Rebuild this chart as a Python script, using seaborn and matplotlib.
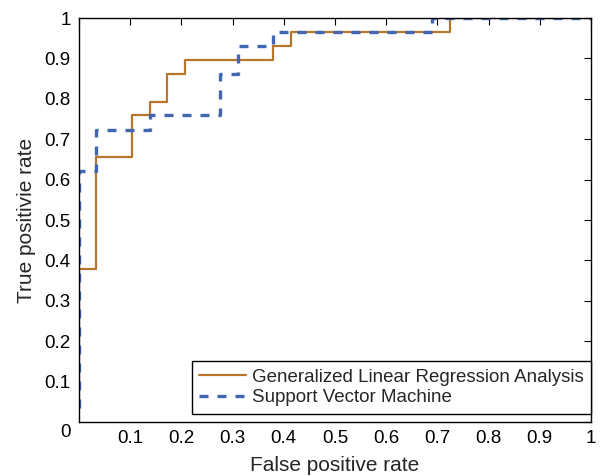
"""
ROC curves: GLM vs SVM
"""

import numpy as np
import pandas as pd
import matplotlib
matplotlib.use("Agg")
import matplotlib.pyplot as plt
import matplotlib.transforms as mtransforms
import seaborn as sns

# ROC corner points (false positive rate, true positive rate)
glm_fpr = [0.0, 0.0, 0.034, 0.034, 0.103, 0.103, 0.138, 0.138, 0.172, 0.172,
           0.207, 0.207, 0.379, 0.379, 0.414, 0.414, 0.724, 0.724, 1.0]
glm_tpr = [0.034, 0.379, 0.379, 0.655, 0.655, 0.759, 0.759, 0.793, 0.793, 0.862,
           0.862, 0.897, 0.897, 0.931, 0.931, 0.966, 0.966, 1.0, 1.0]

svm_fpr = [0.0, 0.0, 0.034, 0.034, 0.138, 0.138, 0.276, 0.276, 0.310, 0.310,
           0.379, 0.379, 0.690, 0.690, 1.0]
svm_tpr = [0.034, 0.621, 0.621, 0.724, 0.724, 0.759, 0.759, 0.862, 0.862, 0.931,
           0.931, 0.966, 0.966, 1.0, 1.0]

labels = ["Generalized Linear Regression Analysis", "Support Vector Machine"]
ticks = [0, 0.1, 0.2, 0.3, 0.4, 0.5, 0.6, 0.7, 0.8, 0.9, 1]

sns.set_style("white")
plt.rcParams['font.family'] = ['Liberation Sans', 'DejaVu Sans']

fig = plt.figure(figsize=(6.03, 4.76), dpi=100)
ax = fig.add_axes([0.131, 0.1134, 0.849, 0.8487])

glm = pd.DataFrame({'fpr': glm_fpr, 'tpr': glm_tpr})
svm = pd.DataFrame({'fpr': svm_fpr, 'tpr': svm_tpr})

sns.lineplot(data=glm, x='fpr', y='tpr', sort=False, estimator=None,
             color='#b6772c', linewidth=1.6, label=labels[0], ax=ax)
sns.lineplot(data=svm, x='fpr', y='tpr', sort=False, estimator=None,
             color='#4167b2', linewidth=2.4, label=labels[1], ax=ax)
ax.lines[1].set_dashes([2.7, 2.7])

ax.set_xlim(0, 1)
ax.set_ylim(0, 1)
ax.set_xticks(ticks)
ax.set_yticks(ticks)
ax.set_xticklabels(['' if t == 0 else f"{t:g}" for t in ticks])
ax.set_yticklabels([f"{t:g}" for t in ticks])
ax.tick_params(direction='in', length=5, width=0.8, colors='black',
               top=True, right=True, labelsize=13.5, pad=6)

# MATLAB puts the origin "0" a bit lower
off = mtransforms.ScaledTranslation(0, -8 / 100, fig.dpi_scale_trans)
lab0 = ax.get_yticklabels()[0]
lab0.set_transform(lab0.get_transform() + off)

for sp in ax.spines.values():
    sp.set_visible(True)
    sp.set_color('black')
    sp.set_linewidth(1.0)

ax.set_xlabel('False positive rate', fontsize=15, labelpad=6)
ax.set_ylabel('True positivie rate', fontsize=15, labelpad=6)

leg = ax.legend(loc='lower right', bbox_to_anchor=(1.0, 0.02), borderaxespad=0,
                fancybox=False, framealpha=1, edgecolor='black', fontsize=13.5,
                handlelength=2.5, borderpad=0.4, labelspacing=0.2, handletextpad=0.3)
leg.get_frame().set_linewidth(1.0)

fig.savefig('out.png', dpi=100)
